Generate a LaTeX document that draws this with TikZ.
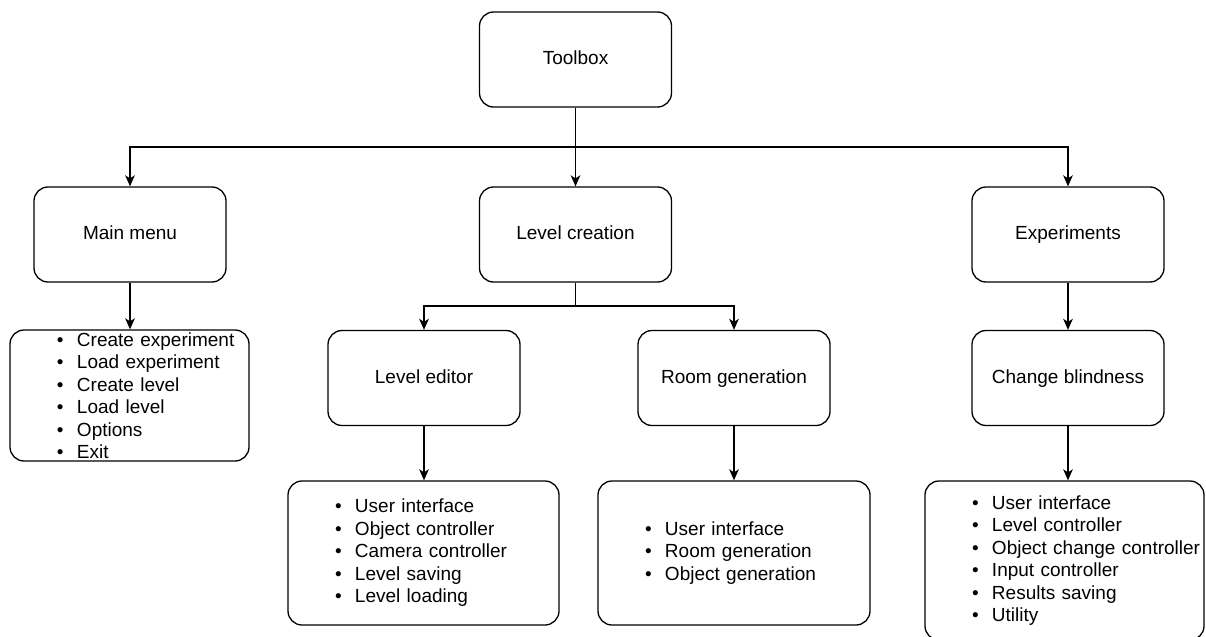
\documentclass[tikz,border=0pt]{standalone}
\usepackage{fontspec}
\setmainfont{Liberation Sans}
\usetikzlibrary{arrows.meta}

% one bullet line of a list box
\newcommand{\itm}[1]{\hspace*{23.5pt}\makebox[10pt][l]{\textbullet}#1}

\begin{document}
\begin{tikzpicture}[x=0.5pt, y=-0.5pt,
    every node/.style={font=\fontsize{9.5pt}{11.25pt}\selectfont},
    modbox/.style={draw, line width=0.65pt, rounded corners=7pt, minimum width=96pt, minimum height=47.5pt, text height=7pt, text depth=2pt},
    listbox/.style={draw, line width=0.65pt, rounded corners=7pt, align=left, inner xsep=0pt, inner ysep=0pt},
    conn/.style={line width=0.65pt, -{Stealth[length=5.5pt, width=4.8pt, inset=1.5pt]}}]
        \useasboundingbox (0,0) rectangle (1206,637);

        % Top: Toolbox
        \node[modbox] (toolbox) at (575.5,59.5) {Toolbox};

        % Row 1: Main menu, Level creation, Experiments
        \node[modbox] (mainmenu) at (130,234.5) {Main menu};
        \node[modbox] (levelcreation) at (575.5,234.5) {Level creation};
        \node[modbox] (experiments) at (1068,234.5) {Experiments};

        % Row 2: Level editor, Room generation, Change blindness
        \node[modbox] (leveleditor) at (424,378) {Level editor};
        \node[modbox] (roomgen) at (734,378) {Room generation};
        \node[modbox] (changeblind) at (1068,378) {Change blindness};

        % Lists
        \node[listbox, text width=119.5pt, minimum height=65.5pt] (mainlist) at (129.5,395.5)
            {\itm{Create experiment}\\ \itm{Load experiment}\\ \itm{Create level}\\ \itm{Load level}\\ \itm{Options}\\ \itm{Exit}};
        \node[listbox, text width=135.5pt, minimum height=72pt] (editorlist) at (423.5,553)
            {\itm{User interface}\\ \itm{Object controller}\\ \itm{Camera controller}\\ \itm{Level saving}\\ \itm{Level loading}};
        \node[listbox, text width=136pt, minimum height=72pt] (roomlist) at (734,553)
            {\itm{User interface}\\ \itm{Room generation}\\ \itm{Object generation}};
        \node[listbox, text width=139.5pt, minimum height=79.5pt] (blindlist) at (1064.5,560.5)
            {\itm{User interface}\\ \itm{Level controller}\\ \itm{Object change controller}\\ \itm{Input controller}\\ \itm{Results saving}\\ \itm{Utility}};

        % Toolbox -> row 1
        \coordinate (bar) at (575.5,147);
        \draw[line width=0.65pt] (toolbox.south) -- (bar);
        \draw[conn] (bar) -| (mainmenu.north);
        \draw[conn] (bar) -- (levelcreation.north);
        \draw[conn] (bar) -| (experiments.north);

        % Level creation -> row 2
        \coordinate (split) at (575.5,306);
        \draw[line width=0.65pt] (levelcreation.south) -- (split);
        \draw[conn] (split) -| (leveleditor.north);
        \draw[conn] (split) -| (roomgen.north);
        \draw[conn] (experiments.south) -- (changeblind.north);

        % Boxes -> lists
        \draw[conn] (mainmenu.south) -- (mainmenu.south |- mainlist.north);
        \draw[conn] (leveleditor.south) -- (leveleditor.south |- editorlist.north);
        \draw[conn] (roomgen.south) -- (roomgen.south |- roomlist.north);
        \draw[conn] (changeblind.south) -- (changeblind.south |- blindlist.north);
    \end{tikzpicture}
\end{document}
